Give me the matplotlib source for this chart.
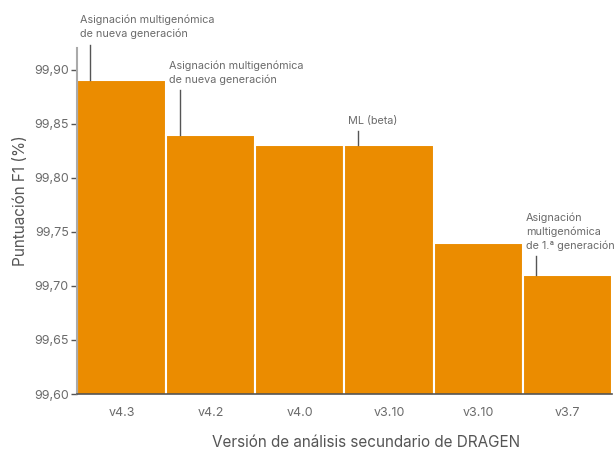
import matplotlib.pyplot as plt
from matplotlib.ticker import FuncFormatter, MultipleLocator

plt.rcParams['font.family'] = ['Inter', 'DejaVu Sans']

versions = ['v4.3', 'v4.2', 'v4.0', 'v3.10', 'v3.10', 'v3.7']
f1_scores = [99.89, 99.84, 99.83, 99.83, 99.74, 99.71]
notes = ['Asignación multigenómica\nde nueva generación',
         'Asignación multigenómica\nde nueva generación',
         None,
         'ML (beta)',
         None,
         'Asignación\nmultigenómica\nde 1.ª generación']
# length of the callout line above each bar (in score units)
note_len = [0.033, 0.041, 0, 0.013, 0, 0.0175]

bar_color = '#EB8C00'
grey_text = '#6b6b6b'

fig = plt.figure(figsize=(6.16, 4.5), dpi=100)
ax = fig.add_axes([0.125, 0.1244, 0.8685, 0.7689])

x = range(len(versions))
ax.bar(x, f1_scores, width=1.0, color=bar_color, edgecolor='white', linewidth=1.5)

ax.set_xlim(-0.5, 5.5)
ax.set_ylim(99.6, 99.92)
ax.yaxis.set_major_locator(MultipleLocator(0.05))
ax.yaxis.set_major_formatter(FuncFormatter(lambda v, p: f'{v:.2f}'.replace('.', ',')))

ax.set_xticks(list(x))
ax.set_xticklabels(versions)
ax.tick_params(axis='x', length=0, pad=9, labelsize=9, labelcolor=grey_text)
ax.tick_params(axis='y', length=4, width=1, color='#555555', pad=2, labelsize=9, labelcolor=grey_text)

for s in ['top', 'right']:
    ax.spines[s].set_visible(False)
ax.spines['left'].set_color('#aaaaaa')
ax.spines['left'].set_linewidth(1.5)
ax.spines['bottom'].set_color('#555555')
ax.spines['bottom'].set_linewidth(1.2)
ax.spines['bottom'].set_zorder(5)

# callouts
for i, (val, note, ln) in enumerate(zip(f1_scores, notes, note_len)):
    if note is None:
        continue
    lx = i - 0.5 + 0.15
    ax.plot([lx, lx], [val, val + ln], color='#555555', lw=1, clip_on=False)
    ax.text(i - 0.5 + 0.035, val + ln + 0.005, note, ha='left', va='bottom',
            fontsize=7.8, color=grey_text, linespacing=1.4, clip_on=False)

ax.set_ylabel('Puntuación F1 (%)', fontsize=11, color='#555555')
ax.yaxis.set_label_coords(-0.092, 0.56)
ax.set_xlabel('Versión de análisis secundario de DRAGEN', fontsize=11, color='#555555')
ax.xaxis.set_label_coords(0.54, -0.117)
ax.xaxis.label.set_verticalalignment('top')

fig.savefig('out.png', dpi=100)
